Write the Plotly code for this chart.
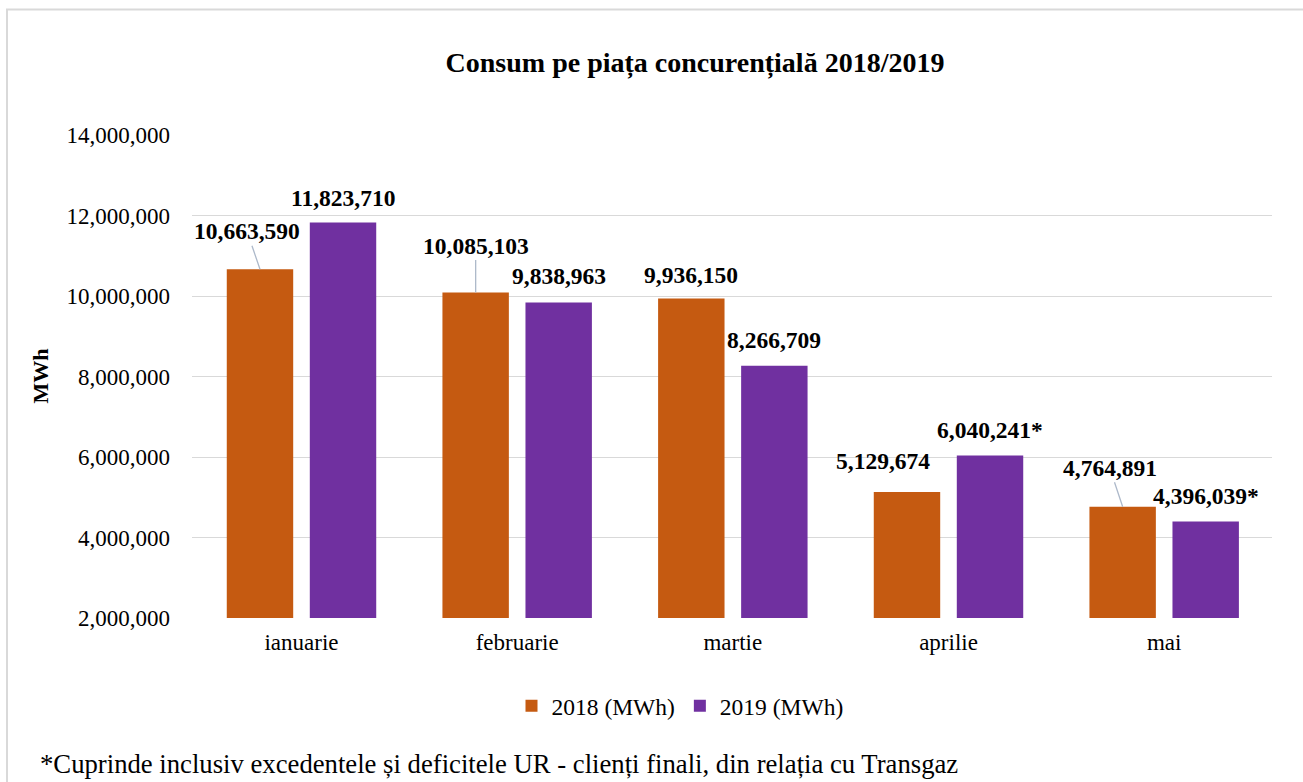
import plotly.graph_objects as go

categories = ["ianuarie", "februarie", "martie", "aprilie", "mai"]
v2018 = [10663590, 10085103, 9936150, 5129674, 4764891]
v2019 = [11823710, 9838963, 8266709, 6040241, 4396039]
suffix2019 = ["", "", "", "*", "*"]
tick_vals = [2000000, 4000000, 6000000, 8000000, 10000000, 12000000, 14000000]

title_text = "Consum pe piața concurențială 2018/2019"
footnote = "*Cuprinde inclusiv excedentele și deficitele UR - clienți finali, din relația cu Transgaz"

# label placement (pixel offsets of label centre relative to bar top), leader line flag
off2018 = [(-13, -38, True), (0, -47, True), (0, -24, False), (-24, -31, False), (-13, -39, True)]
off2019 = [(0, -25, False), (0, -26, False), (0, -26, False), (0, -25, False), (0, -26, False)]

C2018 = "#C55A11"
C2019 = "#7030A0"
FONT = "Liberation Serif"
W, H = 1303, 782
L, R, T, B = 192, 31, 135, 164
PW = W - L - R
PH = H - T - B

def px_x(p):
    return (p - L) / PW

def px_y(p):
    return (H - B - p) / PH

fig = go.Figure()
fig.add_trace(go.Bar(name="2018 (MWh)", x=categories, y=v2018, marker_color=C2018,
                     marker_line_width=0))
fig.add_trace(go.Bar(name="2019 (MWh)", x=categories, y=v2019, marker_color=C2019,
                     marker_line_width=0))

ann = []
shift = 41.5
for vals, offs, sfx, xs in [(v2018, off2018, [""] * 5, -shift), (v2019, off2019, suffix2019, shift)]:
    for c, v, (dx, dy, lead), s in zip(categories, vals, offs, sfx):
        txt = f"{v:,}{s}"
        if lead:
            ann.append(dict(x=c, y=v, xref="x", yref="y", text=f"<b>{txt}</b>",
                            showarrow=True, arrowhead=0, arrowwidth=1.3, arrowcolor="#ADB9CA",
                            ax=dx, ay=dy, xshift=xs, standoff=0,
                            font=dict(family=FONT, size=23.5, color="#000")))
        else:
            ann.append(dict(x=c, y=v, xref="x", yref="y", text=f"<b>{txt}</b>",
                            showarrow=False, xshift=xs + dx, yshift=-dy,
                            xanchor="center", yanchor="middle",
                            font=dict(family=FONT, size=23.5, color="#000")))

ann.append(dict(x=px_x(40), y=0.5, xref="paper", yref="paper", text="<b>MWh</b>",
                textangle=-90, showarrow=False, xanchor="center", yanchor="middle",
                font=dict(family=FONT, size=22, color="#000")))
ann.append(dict(x=px_x(38), y=px_y(764), xref="paper", yref="paper", text=footnote,
                showarrow=False, xanchor="left", yanchor="middle",
                font=dict(family=FONT, size=26.7, color="#000")))

fig.update_layout(
    width=W, height=H,
    margin=dict(l=L, r=R, t=T, b=B, autoexpand=False),
    paper_bgcolor="white", plot_bgcolor="white",
    barmode="group", bargap=0.23, bargroupgap=0.2,
    title=dict(text=f"<b>{title_text}</b>", x=695 / W, xanchor="center",
               y=1 - 62 / H, yanchor="middle", yref="container",
               font=dict(family=FONT, size=28, color="#000")),
    font=dict(family=FONT, size=23, color="#000"),
    legend=dict(orientation="h", x=px_x(680), xanchor="center", y=px_y(706), yanchor="middle",
                font=dict(family=FONT, size=23.5, color="#000"), itemwidth=30,
                traceorder="normal"),
    annotations=ann,
    showlegend=True,
)
fig.update_xaxes(showgrid=False, showline=False, ticks="", automargin=False,
                 tickfont=dict(family=FONT, size=23, color="#000"), ticklabelstandoff=8)
fig.update_yaxes(range=[2000000, 14000000], tickvals=tick_vals, tickformat=",",
                 showgrid=True, gridcolor="#D9D9D9", gridwidth=1, zeroline=False,
                 showline=False, ticks="", automargin=False, ticklabelstandoff=21,
                 tickfont=dict(family=FONT, size=23, color="#000"))

fig.add_shape(type="rect", xref="paper", yref="paper",
              x0=px_x(7), x1=px_x(1320), y0=px_y(800), y1=px_y(9.5),
              line=dict(color="#D9D9D9", width=2), fillcolor="rgba(0,0,0,0)", layer="below")

fig.write_html("out.html", config={"displayModeBar": False},
               post_script="document.body.style.margin='0';")
